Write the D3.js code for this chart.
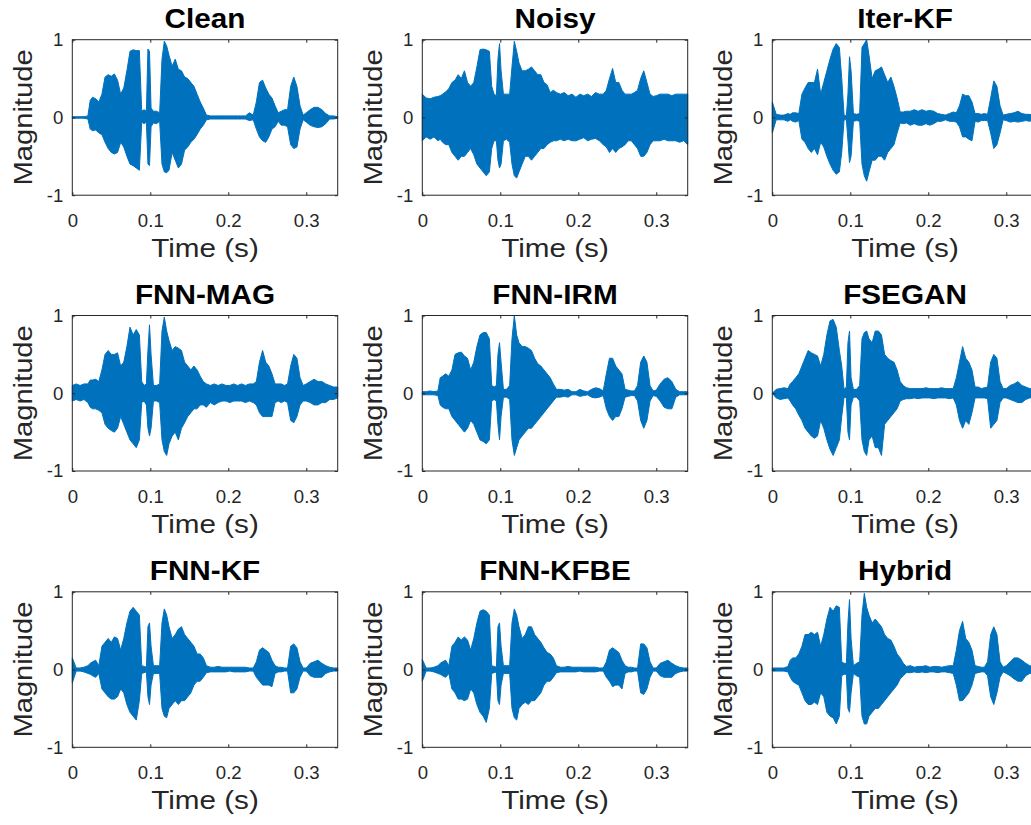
<!DOCTYPE html>
<html>
<head>
<meta charset="utf-8">
<script src="https://cdn.jsdelivr.net/npm/d3@7"></script>
<style>
  html, body { margin: 0; padding: 0; background: #fff; }
  svg { display: block; font-family: "Liberation Sans", Arial, Helvetica, sans-serif; }
</style>
</head>
<body>
<svg id="chart" width="1031" height="825"></svg>
<script>
// sample times (s) shared by every envelope below
const times = [
  0, 0.005, 0.01, 0.015, 0.02, 0.023, 0.026, 0.03, 0.034, 0.038, 0.042, 0.046,
  0.05, 0.054, 0.058, 0.062, 0.066, 0.07, 0.074, 0.078, 0.082, 0.086, 0.089, 0.092,
  0.095, 0.097, 0.099, 0.101, 0.104, 0.108, 0.112, 0.115, 0.118, 0.121, 0.124, 0.128,
  0.132, 0.136, 0.14, 0.144, 0.148, 0.152, 0.156, 0.16, 0.164, 0.168, 0.172, 0.177,
  0.182, 0.187, 0.192, 0.197, 0.202, 0.207, 0.212, 0.217, 0.222, 0.227, 0.232, 0.236,
  0.24, 0.244, 0.248, 0.252, 0.256, 0.26, 0.264, 0.268, 0.272, 0.276, 0.28, 0.284,
  0.288, 0.292, 0.296, 0.3, 0.305, 0.31, 0.315, 0.32, 0.325, 0.33, 0.335, 0.3403
];

const titles = ['Clean', 'Noisy', 'Iter-KF', 'FNN-MAG', 'FNN-IRM', 'FSEGAN', 'FNN-KF', 'FNN-KFBE', 'Hybrid'];
const xTicks = [0, 0.1, 0.2, 0.3];
const yTicks = [-1, 0, 1];

// upper / lower envelope of each waveform
const cleanUpper = [
  0.01, 0.01, 0.01, 0.01, 0.02, 0.22, 0.26, 0.24, 0.20, 0.30, 0.52, 0.55,
  0.53, 0.56, 0.48, 0.30, 0.38, 0.60, 0.85, 0.87, 0.86, 0.86, 0.08, 0.10,
  0.08, 0.88, 0.85, 0.12, 0.08, 0.08, 0.06, 0.75, 0.98, 0.92, 0.80, 0.66,
  0.75, 0.62, 0.60, 0.52, 0.50, 0.45, 0.40, 0.30, 0.20, 0.12, 0.03, 0.02,
  0.02, 0.02, 0.02, 0.02, 0.02, 0.02, 0.02, 0.02, 0.02, 0.06, 0.03, 0.20,
  0.45, 0.48, 0.38, 0.30, 0.25, 0.15, 0.06, 0.08, 0.10, 0.10, 0.40, 0.52,
  0.40, 0.15, 0.03, 0.06, 0.10, 0.13, 0.13, 0.10, 0.05, 0.02, 0.02, 0.01
];
const cleanLower = [
  -0.01, -0.01, -0.01, -0.01, -0.02, -0.15, -0.17, -0.16, -0.20, -0.22, -0.32, -0.40,
  -0.45, -0.47, -0.45, -0.32, -0.38, -0.50, -0.60, -0.62, -0.65, -0.68, -0.06, -0.08,
  -0.06, -0.60, -0.62, -0.12, -0.07, -0.08, -0.05, -0.60, -0.70, -0.71, -0.68, -0.45,
  -0.55, -0.65, -0.60, -0.42, -0.38, -0.32, -0.28, -0.22, -0.15, -0.10, -0.03, -0.02,
  -0.02, -0.02, -0.02, -0.02, -0.02, -0.02, -0.02, -0.02, -0.02, -0.04, -0.03, -0.15,
  -0.25, -0.30, -0.32, -0.25, -0.15, -0.12, -0.05, -0.10, -0.10, -0.12, -0.35, -0.40,
  -0.38, -0.15, -0.03, -0.06, -0.10, -0.12, -0.13, -0.12, -0.08, -0.02, -0.02, -0.01
];

const noisyUpper = [
  0.30, 0.25, 0.24, 0.26, 0.27, 0.28, 0.30, 0.33, 0.37, 0.45, 0.48, 0.55,
  0.50, 0.60, 0.45, 0.40, 0.45, 0.65, 0.87, 0.88, 0.87, 0.85, 0.40, 0.30,
  0.28, 0.75, 0.95, 0.60, 0.30, 0.30, 0.30, 0.65, 0.98, 0.85, 0.70, 0.60,
  0.60, 0.62, 0.65, 0.60, 0.55, 0.55, 0.45, 0.42, 0.32, 0.35, 0.32, 0.30,
  0.32, 0.28, 0.30, 0.26, 0.30, 0.28, 0.30, 0.27, 0.32, 0.30, 0.30, 0.35,
  0.50, 0.63, 0.45, 0.45, 0.35, 0.30, 0.30, 0.30, 0.32, 0.35, 0.50, 0.60,
  0.45, 0.30, 0.27, 0.28, 0.30, 0.30, 0.30, 0.28, 0.30, 0.30, 0.30, 0.30
];
const noisyLower = [
  -0.30, -0.25, -0.28, -0.25, -0.30, -0.28, -0.32, -0.35, -0.35, -0.45, -0.50, -0.55,
  -0.50, -0.50, -0.45, -0.40, -0.48, -0.60, -0.65, -0.70, -0.75, -0.70, -0.40, -0.30,
  -0.30, -0.55, -0.65, -0.60, -0.30, -0.28, -0.32, -0.60, -0.75, -0.78, -0.70, -0.60,
  -0.50, -0.50, -0.55, -0.50, -0.45, -0.40, -0.40, -0.35, -0.32, -0.30, -0.30, -0.28,
  -0.30, -0.28, -0.30, -0.30, -0.28, -0.26, -0.30, -0.28, -0.27, -0.30, -0.35, -0.38,
  -0.45, -0.40, -0.45, -0.40, -0.38, -0.35, -0.30, -0.30, -0.35, -0.40, -0.50, -0.50,
  -0.45, -0.35, -0.30, -0.30, -0.30, -0.28, -0.30, -0.30, -0.30, -0.32, -0.30, -0.35
];

const iterKfUpper = [
  0.20, 0.04, 0.03, 0.03, 0.05, 0.04, 0.06, 0.06, 0.05, 0.30, 0.38, 0.45,
  0.45, 0.45, 0.62, 0.30, 0.45, 0.60, 0.75, 0.88, 0.95, 0.90, 0.50, 0.03,
  0.02, 0.30, 0.78, 0.60, 0.05, 0.04, 0.05, 0.90, 0.95, 1.00, 0.80, 0.50,
  0.60, 0.62, 0.65, 0.55, 0.45, 0.52, 0.40, 0.25, 0.07, 0.07, 0.08, 0.08,
  0.10, 0.08, 0.10, 0.08, 0.09, 0.08, 0.05, 0.04, 0.03, 0.05, 0.07, 0.06,
  0.15, 0.30, 0.28, 0.28, 0.20, 0.05, 0.05, 0.04, 0.05, 0.04, 0.25, 0.47,
  0.40, 0.15, 0.03, 0.04, 0.05, 0.06, 0.08, 0.05, 0.04, 0.04, 0.03, 0.04
];
const iterKfLower = [
  -0.20, -0.03, -0.03, -0.03, -0.05, -0.03, -0.05, -0.06, -0.04, -0.28, -0.32, -0.40,
  -0.45, -0.40, -0.48, -0.32, -0.38, -0.50, -0.60, -0.68, -0.73, -0.70, -0.45, -0.03,
  -0.03, -0.30, -0.58, -0.50, -0.05, -0.04, -0.05, -0.60, -0.75, -0.82, -0.70, -0.55,
  -0.55, -0.50, -0.50, -0.55, -0.45, -0.40, -0.35, -0.20, -0.07, -0.08, -0.07, -0.10,
  -0.08, -0.10, -0.10, -0.08, -0.10, -0.08, -0.05, -0.05, -0.03, -0.05, -0.05, -0.06,
  -0.12, -0.25, -0.25, -0.28, -0.30, -0.05, -0.06, -0.04, -0.04, -0.04, -0.20, -0.40,
  -0.35, -0.20, -0.03, -0.04, -0.06, -0.05, -0.06, -0.05, -0.04, -0.05, -0.03, -0.04
];

const fnnMagUpper = [
  0.10, 0.12, 0.10, 0.12, 0.12, 0.17, 0.17, 0.18, 0.15, 0.30, 0.50, 0.55,
  0.50, 0.50, 0.52, 0.35, 0.40, 0.60, 0.85, 0.75, 0.82, 0.75, 0.15, 0.10,
  0.12, 0.55, 0.88, 0.50, 0.10, 0.10, 0.12, 0.80, 0.98, 0.80, 0.68, 0.55,
  0.60, 0.58, 0.55, 0.40, 0.35, 0.30, 0.35, 0.30, 0.22, 0.15, 0.12, 0.10,
  0.12, 0.10, 0.12, 0.10, 0.10, 0.12, 0.10, 0.12, 0.10, 0.12, 0.12, 0.15,
  0.40, 0.55, 0.40, 0.35, 0.25, 0.12, 0.12, 0.12, 0.10, 0.12, 0.35, 0.50,
  0.45, 0.20, 0.10, 0.12, 0.15, 0.18, 0.15, 0.15, 0.12, 0.10, 0.08, 0.08
];
const fnnMagLower = [
  -0.10, -0.08, -0.10, -0.08, -0.12, -0.18, -0.20, -0.20, -0.22, -0.25, -0.40, -0.45,
  -0.48, -0.50, -0.45, -0.30, -0.40, -0.50, -0.60, -0.65, -0.70, -0.60, -0.12, -0.10,
  -0.15, -0.45, -0.55, -0.45, -0.10, -0.10, -0.12, -0.60, -0.75, -0.80, -0.65, -0.55,
  -0.50, -0.60, -0.45, -0.38, -0.30, -0.25, -0.20, -0.20, -0.15, -0.15, -0.18, -0.12,
  -0.15, -0.12, -0.10, -0.10, -0.12, -0.10, -0.10, -0.10, -0.12, -0.10, -0.12, -0.15,
  -0.25, -0.30, -0.30, -0.30, -0.30, -0.12, -0.10, -0.12, -0.10, -0.12, -0.35, -0.38,
  -0.30, -0.15, -0.10, -0.10, -0.12, -0.15, -0.15, -0.12, -0.12, -0.08, -0.08, -0.06
];

const fnnIrmUpper = [
  0.02, 0.02, 0.03, 0.02, 0.03, 0.20, 0.22, 0.25, 0.22, 0.30, 0.50, 0.52,
  0.53, 0.48, 0.45, 0.30, 0.40, 0.60, 0.75, 0.78, 0.78, 0.70, 0.10, 0.08,
  0.10, 0.50, 0.65, 0.40, 0.05, 0.05, 0.10, 0.70, 1.00, 0.75, 0.65, 0.60,
  0.60, 0.58, 0.55, 0.45, 0.38, 0.35, 0.30, 0.25, 0.20, 0.12, 0.05, 0.05,
  0.04, 0.05, 0.02, 0.02, 0.05, 0.03, 0.02, 0.05, 0.07, 0.06, 0.03, 0.25,
  0.45, 0.45, 0.35, 0.30, 0.25, 0.05, 0.04, 0.03, 0.03, 0.10, 0.40, 0.48,
  0.40, 0.10, 0.03, 0.04, 0.12, 0.18, 0.20, 0.15, 0.05, 0.02, 0.02, 0.02
];
const fnnIrmLower = [
  -0.02, -0.02, -0.02, -0.02, -0.03, -0.15, -0.18, -0.20, -0.20, -0.30, -0.35, -0.40,
  -0.45, -0.50, -0.45, -0.35, -0.40, -0.50, -0.60, -0.62, -0.65, -0.60, -0.10, -0.08,
  -0.10, -0.40, -0.60, -0.30, -0.05, -0.05, -0.08, -0.60, -0.80, -0.70, -0.60, -0.55,
  -0.50, -0.45, -0.45, -0.40, -0.35, -0.30, -0.25, -0.20, -0.15, -0.10, -0.05, -0.05,
  -0.04, -0.05, -0.02, -0.02, -0.04, -0.03, -0.02, -0.05, -0.06, -0.05, -0.03, -0.20,
  -0.30, -0.35, -0.30, -0.30, -0.20, -0.05, -0.04, -0.03, -0.03, -0.10, -0.35, -0.45,
  -0.35, -0.10, -0.03, -0.04, -0.10, -0.18, -0.20, -0.20, -0.05, -0.02, -0.02, -0.02
];

const fseganUpper = [
  0.00, 0.05, 0.06, 0.07, 0.06, 0.12, 0.15, 0.20, 0.25, 0.35, 0.45, 0.55,
  0.52, 0.50, 0.48, 0.35, 0.50, 0.75, 0.93, 0.95, 0.85, 0.55, 0.35, 0.05,
  0.08, 0.65, 0.80, 0.20, 0.05, 0.05, 0.10, 0.70, 0.78, 0.80, 0.70, 0.65,
  0.80, 0.80, 0.75, 0.50, 0.45, 0.42, 0.40, 0.30, 0.15, 0.10, 0.07, 0.06,
  0.06, 0.06, 0.06, 0.07, 0.06, 0.06, 0.06, 0.07, 0.06, 0.06, 0.06, 0.20,
  0.40, 0.60, 0.45, 0.40, 0.30, 0.08, 0.08, 0.06, 0.07, 0.08, 0.40, 0.50,
  0.45, 0.15, 0.06, 0.06, 0.10, 0.12, 0.15, 0.10, 0.08, 0.06, 0.06, 0.06
];
const fseganLower = [
  0.00, -0.06, -0.08, -0.07, -0.06, -0.10, -0.15, -0.20, -0.28, -0.35, -0.45, -0.50,
  -0.55, -0.58, -0.55, -0.35, -0.45, -0.60, -0.72, -0.80, -0.70, -0.60, -0.30, -0.05,
  -0.06, -0.50, -0.60, -0.15, -0.05, -0.05, -0.10, -0.60, -0.75, -0.80, -0.60, -0.55,
  -0.70, -0.70, -0.80, -0.40, -0.35, -0.30, -0.25, -0.20, -0.10, -0.08, -0.07, -0.07,
  -0.06, -0.07, -0.06, -0.06, -0.06, -0.07, -0.06, -0.06, -0.06, -0.07, -0.06, -0.15,
  -0.35, -0.45, -0.35, -0.40, -0.25, -0.06, -0.06, -0.06, -0.06, -0.07, -0.45, -0.40,
  -0.35, -0.12, -0.06, -0.06, -0.08, -0.10, -0.12, -0.12, -0.08, -0.06, -0.06, -0.06
];

const fnnKfUpper = [
  0.15, 0.02, 0.02, 0.03, 0.05, 0.08, 0.10, 0.12, 0.05, 0.30, 0.35, 0.40,
  0.35, 0.42, 0.40, 0.25, 0.40, 0.60, 0.75, 0.80, 0.75, 0.70, 0.05, 0.04,
  0.03, 0.55, 0.60, 0.30, 0.05, 0.05, 0.05, 0.60, 0.78, 0.70, 0.55, 0.40,
  0.45, 0.52, 0.55, 0.45, 0.40, 0.35, 0.30, 0.20, 0.20, 0.15, 0.05, 0.03,
  0.03, 0.04, 0.03, 0.03, 0.03, 0.03, 0.03, 0.03, 0.03, 0.02, 0.02, 0.10,
  0.25, 0.28, 0.25, 0.22, 0.12, 0.05, 0.03, 0.03, 0.02, 0.02, 0.30, 0.33,
  0.28, 0.10, 0.02, 0.02, 0.08, 0.10, 0.12, 0.08, 0.05, 0.03, 0.02, 0.02
];
const fnnKfLower = [
  -0.17, -0.02, -0.02, -0.03, -0.05, -0.06, -0.08, -0.10, -0.05, -0.25, -0.30, -0.35,
  -0.38, -0.38, -0.35, -0.25, -0.30, -0.45, -0.55, -0.60, -0.65, -0.40, -0.05, -0.04,
  -0.03, -0.35, -0.45, -0.20, -0.05, -0.05, -0.05, -0.50, -0.60, -0.62, -0.50, -0.45,
  -0.40, -0.45, -0.40, -0.40, -0.35, -0.30, -0.20, -0.15, -0.15, -0.10, -0.04, -0.03,
  -0.03, -0.03, -0.03, -0.03, -0.02, -0.03, -0.03, -0.03, -0.03, -0.02, -0.02, -0.10,
  -0.15, -0.20, -0.20, -0.20, -0.22, -0.05, -0.03, -0.03, -0.02, -0.02, -0.30, -0.30,
  -0.25, -0.10, -0.02, -0.02, -0.08, -0.10, -0.10, -0.10, -0.05, -0.03, -0.02, -0.02
];

const fnnKfbeUpper = [
  0.13, 0.02, 0.02, 0.03, 0.05, 0.08, 0.10, 0.12, 0.05, 0.30, 0.35, 0.42,
  0.38, 0.42, 0.38, 0.25, 0.40, 0.60, 0.75, 0.77, 0.75, 0.70, 0.05, 0.04,
  0.03, 0.55, 0.60, 0.30, 0.05, 0.05, 0.05, 0.60, 0.78, 0.70, 0.55, 0.40,
  0.45, 0.55, 0.55, 0.45, 0.40, 0.35, 0.28, 0.22, 0.20, 0.15, 0.05, 0.03,
  0.03, 0.04, 0.03, 0.03, 0.03, 0.03, 0.03, 0.03, 0.03, 0.02, 0.02, 0.10,
  0.25, 0.28, 0.25, 0.22, 0.12, 0.05, 0.03, 0.03, 0.02, 0.02, 0.33, 0.33,
  0.28, 0.10, 0.02, 0.02, 0.08, 0.10, 0.12, 0.08, 0.05, 0.03, 0.02, 0.02
];
const fnnKfbeLower = [
  -0.15, -0.02, -0.02, -0.03, -0.05, -0.06, -0.08, -0.10, -0.05, -0.25, -0.30, -0.38,
  -0.38, -0.40, -0.38, -0.25, -0.30, -0.45, -0.55, -0.60, -0.68, -0.50, -0.05, -0.04,
  -0.03, -0.40, -0.45, -0.20, -0.05, -0.05, -0.05, -0.50, -0.62, -0.65, -0.50, -0.45,
  -0.42, -0.45, -0.40, -0.40, -0.35, -0.30, -0.20, -0.15, -0.15, -0.10, -0.04, -0.03,
  -0.03, -0.03, -0.03, -0.03, -0.02, -0.03, -0.03, -0.03, -0.03, -0.02, -0.02, -0.10,
  -0.15, -0.22, -0.20, -0.20, -0.25, -0.05, -0.03, -0.03, -0.02, -0.02, -0.30, -0.32,
  -0.25, -0.10, -0.02, -0.02, -0.08, -0.10, -0.10, -0.10, -0.05, -0.03, -0.02, -0.02
];

const hybridUpper = [
  0.02, 0.02, 0.02, 0.02, 0.04, 0.12, 0.15, 0.15, 0.20, 0.30, 0.45, 0.45,
  0.48, 0.45, 0.48, 0.30, 0.45, 0.65, 0.80, 0.75, 0.82, 0.80, 0.10, 0.08,
  0.08, 0.60, 0.90, 0.40, 0.05, 0.08, 0.10, 0.70, 0.98, 0.80, 0.70, 0.60,
  0.65, 0.60, 0.55, 0.45, 0.40, 0.38, 0.30, 0.20, 0.15, 0.08, 0.04, 0.05,
  0.03, 0.04, 0.04, 0.05, 0.03, 0.04, 0.04, 0.03, 0.04, 0.05, 0.05, 0.25,
  0.50, 0.62, 0.40, 0.35, 0.25, 0.05, 0.04, 0.03, 0.03, 0.10, 0.45, 0.55,
  0.45, 0.10, 0.03, 0.05, 0.10, 0.15, 0.15, 0.12, 0.08, 0.05, 0.04, 0.03
];
const hybridLower = [
  -0.02, -0.02, -0.02, -0.02, -0.03, -0.10, -0.15, -0.18, -0.20, -0.30, -0.40, -0.45,
  -0.45, -0.42, -0.45, -0.30, -0.35, -0.55, -0.60, -0.62, -0.70, -0.60, -0.08, -0.06,
  -0.06, -0.50, -0.55, -0.30, -0.05, -0.08, -0.10, -0.60, -0.70, -0.70, -0.60, -0.55,
  -0.50, -0.50, -0.45, -0.40, -0.35, -0.30, -0.25, -0.20, -0.12, -0.08, -0.04, -0.04,
  -0.03, -0.04, -0.03, -0.04, -0.03, -0.03, -0.04, -0.03, -0.03, -0.04, -0.05, -0.20,
  -0.40, -0.40, -0.35, -0.30, -0.20, -0.05, -0.04, -0.03, -0.03, -0.08, -0.35, -0.45,
  -0.30, -0.10, -0.03, -0.05, -0.08, -0.12, -0.15, -0.15, -0.08, -0.05, -0.04, -0.03
];

const uppers = [cleanUpper, noisyUpper, iterKfUpper, fnnMagUpper, fnnIrmUpper, fseganUpper, fnnKfUpper, fnnKfbeUpper, hybridUpper];
const lowers = [cleanLower, noisyLower, iterKfLower, fnnMagLower, fnnIrmLower, fseganLower, fnnKfLower, fnnKfbeLower, hybridLower];

// layout (MATLAB subplot 3x3, right column runs off the canvas)
const colLeft = [72.3, 422.3, 772.3];
const rowTop = [39.7, 315.5, 591.8];
const w = 265.4, h = 155.5;
const lineColor = '#0072BD';
const axisColor = '#262626';

const svg = d3.select('#chart');
svg.append('rect').attr('width', 1031).attr('height', 825).attr('fill', '#fff');

titles.forEach((title, i) => {
  const col = i % 3, row = Math.floor(i / 3);
  const g = svg.append('g').attr('transform', `translate(${colLeft[col]},${rowTop[row]})`);

  const x = d3.scaleLinear().domain([0, times[times.length - 1]]).range([0, w]);
  const y = d3.scaleLinear().domain([-1, 1]).range([h, 0]);

  const upper = uppers[i], lower = lowers[i];
  const area = d3.area()
    .x((d, j) => x(times[j]))
    .y0((d, j) => y(lower[j]))
    .y1((d, j) => y(upper[j]));

  g.append('path')
    .datum(times)
    .attr('d', area)
    .attr('fill', lineColor)
    .attr('stroke', lineColor)
    .attr('stroke-width', 1)
    .attr('stroke-linejoin', 'round');

  // bottom axis with labels, ticks pointing inward
  const xAxis = d3.axisBottom(x).tickValues(xTicks).tickSize(-3).tickPadding(18.5)
    .tickFormat(d => String(d));
  const gx = g.append('g').attr('transform', `translate(0,${h})`).call(xAxis);
  const xTop = d3.axisTop(x).tickValues(xTicks).tickSize(-3).tickFormat('');
  const gxt = g.append('g').call(xTop);

  const yAxis = d3.axisLeft(y).tickValues(yTicks).tickSize(-3).tickPadding(9)
    .tickFormat(d => String(d));
  const gy = g.append('g').call(yAxis);
  const yRight = d3.axisRight(y).tickValues(yTicks).tickSize(-3).tickFormat('');
  const gyr = g.append('g').attr('transform', `translate(${w},0)`).call(yRight);

  [gx, gxt, gy, gyr].forEach(a => {
    a.select('.domain').remove();
    a.selectAll('line').attr('stroke', axisColor);
    a.selectAll('text')
      .attr('fill', axisColor)
      .attr('font-size', 18.6)
      .attr('font-family', '"Liberation Sans", Arial, sans-serif');
  });

  g.append('rect')
    .attr('width', w).attr('height', h)
    .attr('fill', 'none')
    .attr('stroke', axisColor)
    .attr('stroke-width', 1);

  // the original font runs a little wider than Arial, hence the x-stretch
  g.append('text')
    .attr('transform', `translate(${w / 2},-11.4) scale(1.08,1)`)
    .attr('text-anchor', 'middle')
    .attr('font-size', 27.5)
    .attr('font-weight', 'bold')
    .attr('fill', '#000')
    .text(title);

  g.append('text')
    .attr('transform', `translate(${w / 2},${h + 62}) scale(1.12,1)`)
    .attr('text-anchor', 'middle')
    .attr('font-size', 26.5)
    .attr('fill', axisColor)
    .text('Time (s)');

  g.append('text')
    .attr('transform', `translate(-40,${h / 2}) rotate(-90) scale(1.1,1)`)
    .attr('text-anchor', 'middle')
    .attr('font-size', 26.5)
    .attr('fill', axisColor)
    .text('Magnitude');
});
</script>
</body>
</html>
